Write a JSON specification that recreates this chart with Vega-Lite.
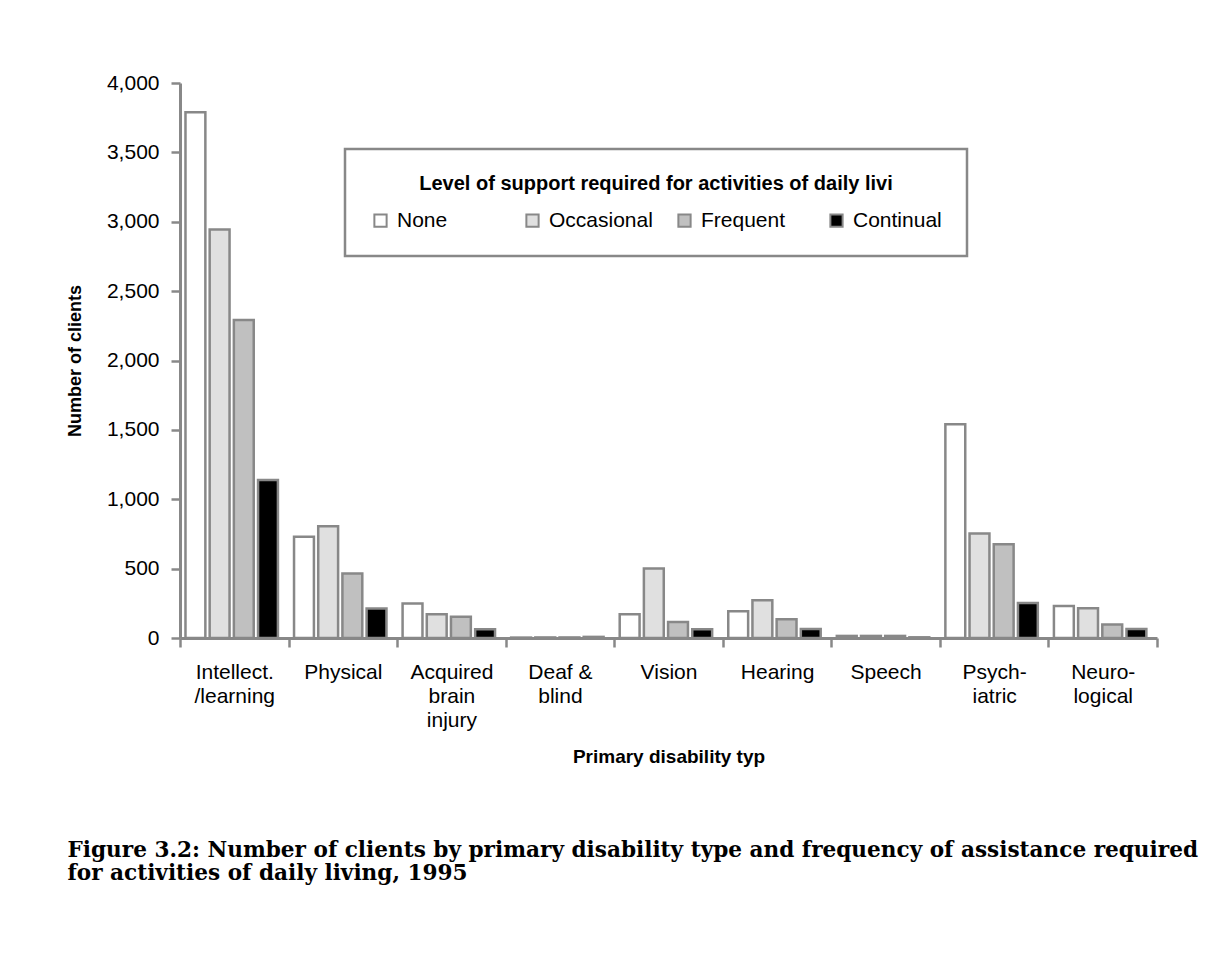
{
  "$schema": "https://vega.github.io/schema/vega-lite/v6.json",
  "autosize": "none",
  "padding": {"left": 180, "top": 83, "right": 61, "bottom": 338},
  "width": 977,
  "height": 555,
  "background": "white",
  "title": {
    "text": ["Figure 3.2: Number of clients by primary disability type and frequency of assistance required", "for activities of daily living, 1995"],
    "orient": "bottom",
    "anchor": "start",
    "frame": "bounds",
    "font": "DejaVu Serif",
    "fontSize": 21.6,
    "fontWeight": "bold",
    "color": "black",
    "lineHeight": 23,
    "offset": 74,
    "dx": 1
  },
  "data": {
    "values": [
      {"category": "Intellect.|/learning", "level": "None", "value": 3790},
      {"category": "Intellect.|/learning", "level": "Occasional", "value": 2944},
      {"category": "Intellect.|/learning", "level": "Frequent", "value": 2292},
      {"category": "Intellect.|/learning", "level": "Continual", "value": 1138},
      {"category": "Physical", "level": "None", "value": 729},
      {"category": "Physical", "level": "Occasional", "value": 806},
      {"category": "Physical", "level": "Frequent", "value": 465},
      {"category": "Physical", "level": "Continual", "value": 212},
      {"category": "Acquired|brain|injury", "level": "None", "value": 248},
      {"category": "Acquired|brain|injury", "level": "Occasional", "value": 171},
      {"category": "Acquired|brain|injury", "level": "Frequent", "value": 154},
      {"category": "Acquired|brain|injury", "level": "Continual", "value": 63},
      {"category": "Deaf &|blind", "level": "None", "value": 3},
      {"category": "Deaf &|blind", "level": "Occasional", "value": 4},
      {"category": "Deaf &|blind", "level": "Frequent", "value": 4},
      {"category": "Deaf &|blind", "level": "Continual", "value": 8},
      {"category": "Vision", "level": "None", "value": 171},
      {"category": "Vision", "level": "Occasional", "value": 501},
      {"category": "Vision", "level": "Frequent", "value": 115},
      {"category": "Vision", "level": "Continual", "value": 63},
      {"category": "Hearing", "level": "None", "value": 193},
      {"category": "Hearing", "level": "Occasional", "value": 272},
      {"category": "Hearing", "level": "Frequent", "value": 135},
      {"category": "Hearing", "level": "Continual", "value": 65},
      {"category": "Speech", "level": "None", "value": 15},
      {"category": "Speech", "level": "Occasional", "value": 15},
      {"category": "Speech", "level": "Frequent", "value": 15},
      {"category": "Speech", "level": "Continual", "value": 5},
      {"category": "Psych-|iatric", "level": "None", "value": 1540},
      {"category": "Psych-|iatric", "level": "Occasional", "value": 753},
      {"category": "Psych-|iatric", "level": "Frequent", "value": 676},
      {"category": "Psych-|iatric", "level": "Continual", "value": 253},
      {"category": "Neuro-|logical", "level": "None", "value": 231},
      {"category": "Neuro-|logical", "level": "Occasional", "value": 214},
      {"category": "Neuro-|logical", "level": "Frequent", "value": 97},
      {"category": "Neuro-|logical", "level": "Continual", "value": 65}
    ]
  },
  "mark": {"type": "bar", "stroke": "#888888", "strokeWidth": 2.5},
  "encoding": {
    "x": {
      "field": "category",
      "type": "nominal",
      "sort": null,
      "scale": {"paddingInner": 0, "paddingOuter": 0},
      "axis": {
        "title": "Primary disability typ",
        "labelAngle": 0,
        "labelExpr": "split(datum.label, '|')",
        "labelFont": "Liberation Sans",
        "labelFontSize": 21,
        "labelColor": "black",
        "labelLineHeight": 24,
        "labelPadding": 14,
        "labelBaseline": "top",
        "labelLimit": 200,
        "tickBand": "extent",
        "titleFont": "Liberation Sans",
        "titleFontSize": 19,
        "titleFontWeight": "bold",
        "titleColor": "black",
        "titlePadding": 17
      }
    },
    "xOffset": {
      "field": "level",
      "type": "nominal",
      "sort": ["None", "Occasional", "Frequent", "Continual"],
      "scale": {"paddingInner": 0.178, "paddingOuter": 0.333, "align": 0.34}
    },
    "y": {
      "field": "value",
      "type": "quantitative",
      "scale": {"domain": [0, 4000], "nice": false},
      "axis": {
        "title": "Number of clients",
        "values": [0, 500, 1000, 1500, 2000, 2500, 3000, 3500, 4000],
        "format": ",d",
        "grid": false,
        "labelFont": "Liberation Sans",
        "labelFontSize": 21,
        "labelColor": "black",
        "labelPadding": 12,
        "titleFont": "Liberation Sans",
        "titleFontSize": 18,
        "titleFontWeight": "bold",
        "titleColor": "black",
        "titlePadding": 22
      }
    },
    "color": {
      "field": "level",
      "type": "nominal",
      "scale": {
        "domain": ["None", "Occasional", "Frequent", "Continual"],
        "range": ["#ffffff", "#e0e0e0", "#c0c0c0", "#000000"]
      },
      "legend": {
        "title": "Level of support required for activities of daily livi",
        "orient": "none",
        "legendX": 165,
        "legendY": 66,
        "direction": "horizontal",
        "columns": 4,
        "gridAlign": "all",
        "columnPadding": 21,
        "padding": 25,
        "strokeColor": "#888888",
        "titleAnchor": "middle",
        "titleLimit": 1000,
        "titleFont": "Liberation Sans",
        "titleFontSize": 20,
        "titleFontWeight": "bold",
        "titleColor": "black",
        "titlePadding": 16,
        "labelFont": "Liberation Sans",
        "labelFontSize": 21,
        "labelColor": "black",
        "labelOffset": 6,
        "labelLimit": 300,
        "symbolType": "square",
        "symbolSize": 150,
        "symbolStrokeColor": "#888888",
        "symbolStrokeWidth": 2,
        "symbolOpacity": 1
      }
    }
  },
  "config": {
    "view": {"stroke": null},
    "legend": {"strokeWidth": 2.5},
    "axis": {
      "domainColor": "#888888",
      "domainWidth": 3,
      "tickColor": "#888888",
      "tickWidth": 2.5,
      "tickSize": 9
    }
  }
}
